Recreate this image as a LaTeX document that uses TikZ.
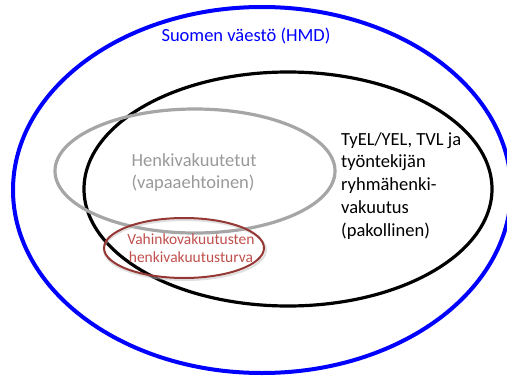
\documentclass[tikz,border=0pt]{standalone}
\usepackage{fontspec}
\setmainfont{Carlito}
\definecolor{hmdblue}{HTML}{0000FF}
\definecolor{grayc}{HTML}{A6A6A6}
\definecolor{grayt}{HTML}{999999}
\definecolor{redc}{HTML}{953735}
\definecolor{redt}{HTML}{C0504D}
\begin{document}
\begin{tikzpicture}[x=1pt,y=-1pt,
  lbl/.style={inner sep=0pt, align=left, font=\fontsize{18.5}{22.8}\selectfont}]
\useasboundingbox (0,0) rectangle (507,378);
\draw[hmdblue, line width=4pt] (262,190) ellipse [x radius=249, y radius=183];
\draw[black, line width=3.2pt] (288,189) ellipse [x radius=204, y radius=117];
\draw[grayc, line width=3.2pt] (195,171) ellipse [x radius=140, y radius=62];
\draw[black!25, line width=2pt, opacity=0.5] (185,250) ellipse [x radius=81, y radius=30];
\draw[redc, line width=2pt] (184,248) ellipse [x radius=80, y radius=30];
\node[lbl, text=hmdblue, anchor=base] (hmd) at (246,41) {Suomen väestö (HMD)};
\node[lbl, text=grayt, align=left, anchor=north] (henki) at (194,153) {Henkivakuutetut\\(vapaaehtoinen)};
\node[lbl, text=black, align=left, anchor=north west] (tyel) at (341,132) {TyEL/YEL, TVL ja\\työntekijän\\ryhmähenki-\\vakuutus\\(pakollinen)};
\node[inner sep=0pt, text=redt, align=center, anchor=north, font=\fontsize{15.5}{18}\selectfont] (vahinko) at (191,234) {Vahinkovakuutusten\\henkivakuutusturva};
\end{tikzpicture}
\end{document}
